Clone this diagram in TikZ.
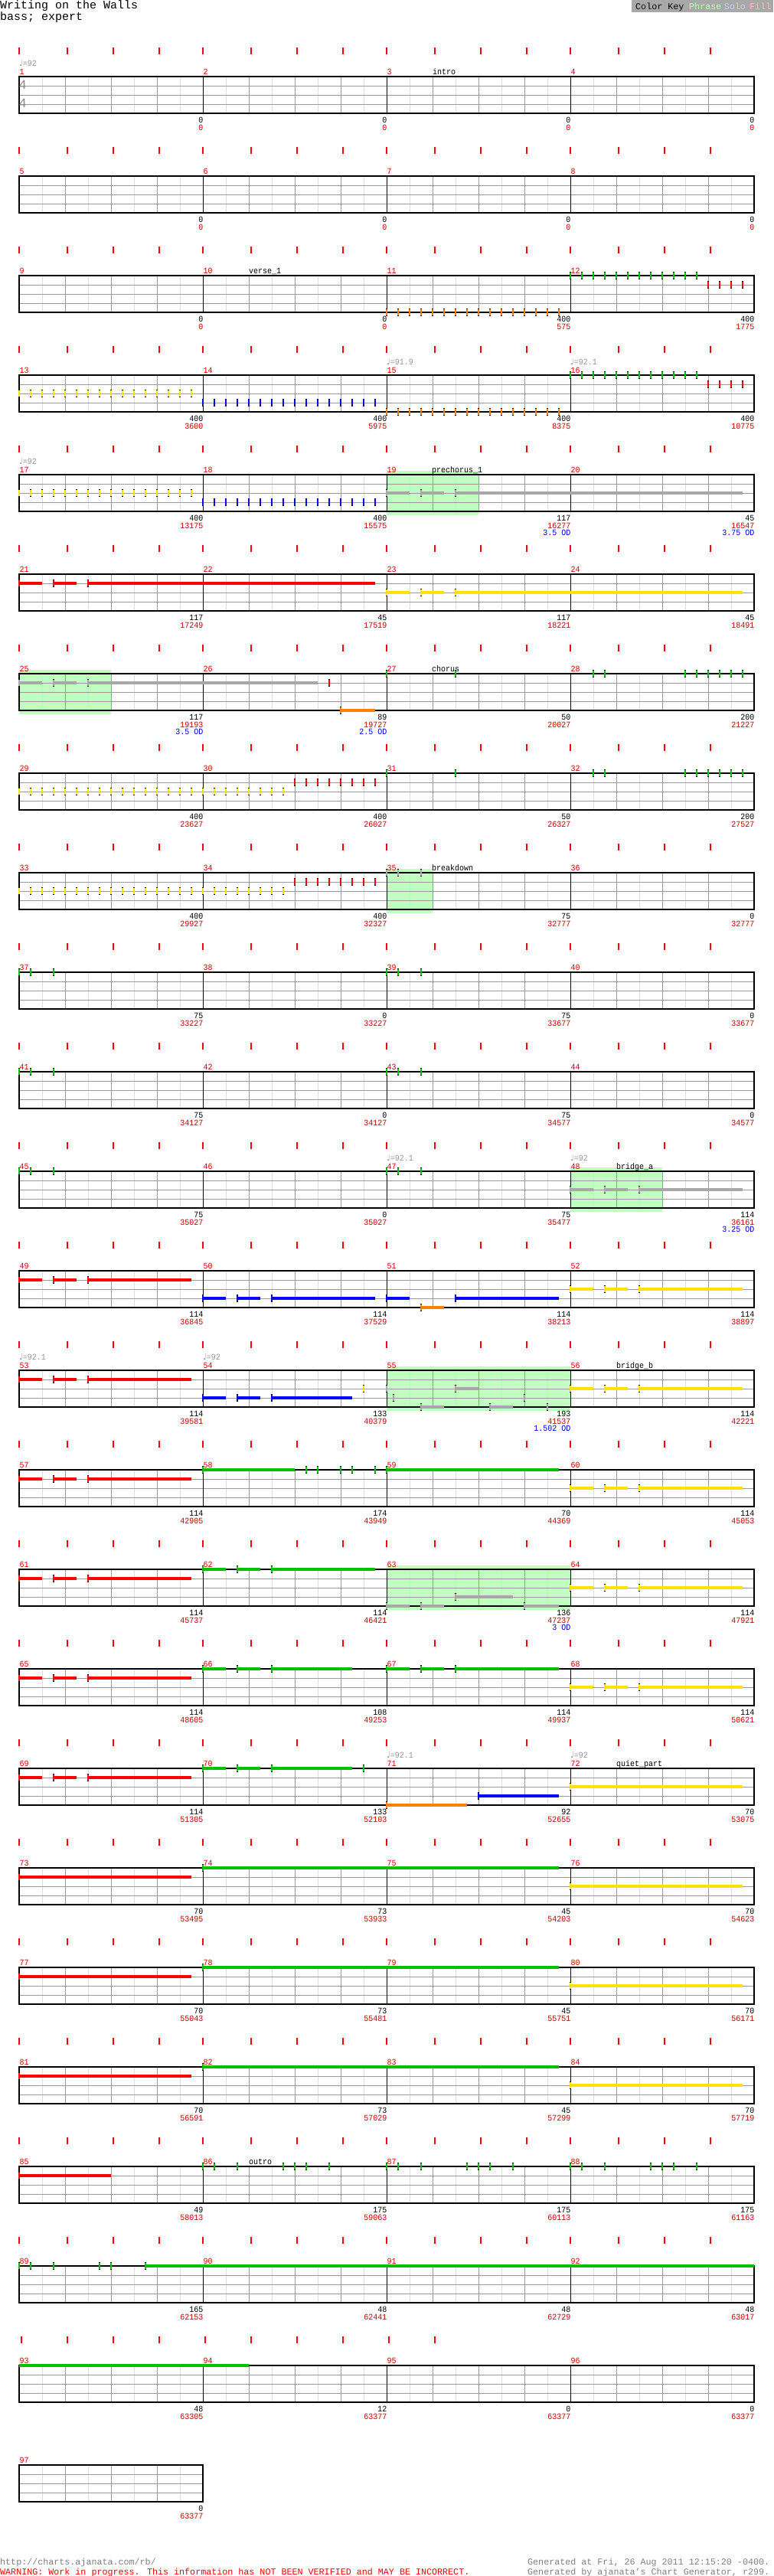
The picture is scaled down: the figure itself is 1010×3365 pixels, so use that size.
\documentclass[tikz,border=0pt]{standalone}
\usepackage{graphicx}
\usepackage{fontspec}
\setmainfont{Liberation Mono}
\newfontfamily\symfont{DejaVu Sans}
\definecolor{ngreen}{RGB}{0,192,0}
\definecolor{nred}{RGB}{255,0,0}
\definecolor{nyellow}{RGB}{255,226,0}
\definecolor{nblue}{RGB}{0,0,255}
\definecolor{norange}{RGB}{255,128,0}
\definecolor{odgray}{RGB}{168,168,168}
\definecolor{phrasebg}{RGB}{192,255,192}
\definecolor{gridlight}{RGB}{222,222,222}
\definecolor{gridmid}{RGB}{155,155,155}
\definecolor{numred}{RGB}{204,0,0}
\definecolor{odblue}{RGB}{0,0,204}
\definecolor{tempogray}{RGB}{150,150,150}
\definecolor{siggray}{RGB}{135,135,135}
\definecolor{keygray}{RGB}{168,168,168}
\definecolor{keysolo}{RGB}{204,204,255}
\definecolor{keyfill}{RGB}{255,192,192}
\definecolor{footgray}{RGB}{128,128,128}
\newcommand\tall[1]{\scalebox{1}[1.1]{#1}}
\tikzset{
  eighthline/.style={draw=gridlight, line width=0.8pt},
  beatline/.style={draw=gridmid, line width=0.8pt},
  laneline/.style={draw=gridmid, line width=1pt},
  barline/.style={draw=black, line width=0.8pt},
  staffedge/.style={draw=black, line width=1.2pt},
  beattick/.style={draw=red, line width=1.8pt},
  sustain/.style={line width=3.2pt},
  smalltext/.style={inner sep=0pt, font=\fontsize{10}{10}\selectfont},
  msrnum/.style={smalltext, text=numred, anchor=base west},
  secttext/.style={smalltext, anchor=base west},
  tempotext/.style={smalltext, text=tempogray, anchor=base west},
  scoreblack/.style={smalltext, anchor=base east},
  scorered/.style={smalltext, text=numred, anchor=base east},
  odtext/.style={smalltext, text=odblue, anchor=base east},
  titletext/.style={inner sep=0pt, anchor=base west, font=\fontsize{15}{15}\selectfont},
  keytext/.style={inner sep=0pt, anchor=base west, font=\fontsize{11.7}{11.7}\selectfont},
  timesig/.style={inner sep=0pt, anchor=west, text=siggray, font=\fontsize{17}{17}\selectfont},
}
% row, measures, first measure
\newcommand\chstaff[3]{%
  \pgfmathtruncatemacro\rt{100+130*#1}%
  \pgfmathtruncatemacro\rx{25+240*#2}%
  \pgfmathtruncatemacro\ne{8*#2-1}%
  \pgfmathtruncatemacro\nbt{4*#2-1}%
  \foreach \e in {1,...,\ne} \draw[eighthline] ({25+30*\e},\rt) -- ++(0,48);
  \foreach \e in {1,...,\nbt} \draw[beatline] ({25+60*\e},\rt) -- ++(0,48);
  \foreach \l in {1,2,3} \draw[laneline] (25,{\rt+12*\l}) -- (\rx,{\rt+12*\l});
  \ifnum#2>1 \pgfmathtruncatemacro\nm{#2-1}\foreach \m in {1,...,\nm} \draw[barline] ({25+240*\m},\rt) -- ++(0,48); \fi
  \draw[staffedge] (25,\rt) rectangle (\rx,\rt+48);
  \foreach \m in {1,...,#2} {\pgfmathtruncatemacro\mn{#3+\m-1}\node[msrnum] (m\mn) at ({25.5+240*(\m-1)},{\rt-3}) {\tall{\mn}};}
}
\newcommand\chticks[1]{\foreach \m in {0,...,3} \foreach \o in {0,63,123,183} \draw[beattick] ({25+240*\m+\o},{100+130*#1-38}) -- ++(0,9);}
% row, lane, beat, colour
\newcommand\chnote[4]{%
  \fill[black] ({25+60*(#3)-1.3},{100+130*(#1)+12*(#2)-5}) rectangle ++(2.6,10);
  \fill[#4] ({25+60*(#3)-1.3},{100+130*(#1)+12*(#2)-3.8}) rectangle ++(2.6,7.6);}
\newcommand\chsus[5]{\draw[sustain,#5] ({25+60*(#3)},{100+130*(#1)+12*(#2)}) -- ({25+60*(#4)},{100+130*(#1)+12*(#2)});}
\newcommand\chhold[5]{\chsus{#1}{#2}{#3}{#4}{#5}\chnote{#1}{#2}{#3}{#5}}
\newcommand\chriff[5]{\chhold{#1}{#2}{#3}{#3+0.5}{#5}\chhold{#1}{#2}{#3+0.75}{#3+1.25}{#5}\chhold{#1}{#2}{#3+1.5}{#4}{#5}}
\newcommand\chrun[5]{\foreach \k in {1,...,#4} {\chnote{#1}{#2}{#3+0.25*(\k-1)}{#5}}}
\newcommand\chhits[4]{\foreach \b in {#3} {\chnote{#1}{#2}{\b}{#4}}}
\newcommand\chphrase[3]{\fill[phrasebg] ({25+60*(#2)},{100+130*#1-5}) rectangle ({25+60*(#3)},{100+130*#1+53});}
\newcommand\chscore[4]{%
  \node[scoreblack] (sb-#1-#2) at ({25.5+240*#2},{100+130*#1+60.5}) {\tall{#3}};
  \node[scorered] (sr-#1-#2) at ({25.5+240*#2},{100+130*#1+70}) {\tall{#4}};}
\newcommand\chod[3]{\node[odtext] (od-#1-#2) at ({25.5+240*#2},{100+130*#1+79}) {\tall{#3}};}
\newcommand\chtempo[3]{\node[tempotext] (t-#1-#2) at (#2,{100+130*#1-13.5}) {\tall{{\symfont ♩}=#3}};}
\newcommand\chsect[3]{\node[secttext] (s-#1) at (#2,{100+130*#1-3}) {\tall{#3}};}
\begin{document}
\begin{tikzpicture}[x=1pt,y=-1pt]
\fill[white] (0,0) rectangle (1010,3365);
\useasboundingbox (0,0) rectangle (1010,3365);
% header
\node[titletext] (title) at (0,11.5) {Writing on the Walls};
\node[titletext] (part) at (0,26.5) {bass; expert};
\fill[keygray] (825,0) rectangle (1010,15.7);
\node[keytext] (key) at (830,12) {Color Key};
\node[keytext, text=phrasebg] (keyphrase) at (900,12) {Phrase};
\node[keytext, text=keysolo] (keysolo) at (945.6,12) {Solo};
\node[keytext, text=keyfill] (keyfill) at (979,12) {Fill};
% phrases
\chphrase{4}{8}{10}
\chphrase{6}{0}{2}
\chphrase{8}{8}{9}
\chphrase{11}{12}{14}
\chphrase{13}{8}{12}
\chphrase{15}{8}{12}
% staves
\foreach \r in {0,...,23} {\pgfmathtruncatemacro\fm{4*\r+1}\chstaff{\r}{4}{\fm}}
\chstaff{24}{1}{97}
\foreach \r in {0,...,22} {\chticks{\r}}
\foreach \x in {27.7,88,148,208,268,328,388,448,508,568} \draw[beattick] (\x,{100+130*23-38}) -- ++(0,9);
\node[timesig] (ts1) at (24.5,110.5) {4};
\node[timesig] (ts2) at (24.5,135) {4};
% row 0-1
\chtempo{0}{25}{92}
\chsect{0}{565}{intro}
\foreach \j in {1,...,4} {\chscore{0}{\j}{0}{0}\chscore{1}{\j}{0}{0}}
% row 2
\chsect{2}{325}{verse\_1}
\chrun{2}{4}{8}{16}{norange}
\chrun{2}{0}{12}{12}{ngreen}
\chrun{2}{1}{15}{4}{nred}
\chscore{2}{1}{0}{0}\chscore{2}{2}{0}{0}\chscore{2}{3}{400}{575}\chscore{2}{4}{400}{1775}
% row 3
\chtempo{3}{505}{91.9}
\chtempo{3}{745}{92.1}
\chrun{3}{2}{0}{16}{nyellow}
\chrun{3}{3}{4}{16}{nblue}
\chrun{3}{4}{8}{16}{norange}
\chrun{3}{0}{12}{12}{ngreen}
\chrun{3}{1}{15}{4}{nred}
\chscore{3}{1}{400}{3600}\chscore{3}{2}{400}{5975}\chscore{3}{3}{400}{8375}\chscore{3}{4}{400}{10775}
% row 4
\chtempo{4}{25}{92}
\chsect{4}{564}{prechorus\_1}
\chrun{4}{2}{0}{16}{nyellow}
\chrun{4}{3}{4}{16}{nblue}
\chriff{4}{2}{8}{15.75}{odgray}
\chscore{4}{1}{400}{13175}\chscore{4}{2}{400}{15575}\chscore{4}{3}{117}{16277}\chscore{4}{4}{45}{16547}
\chod{4}{3}{3.5 OD}\chod{4}{4}{3.75 OD}
% row 5
\chriff{5}{1}{0}{7.75}{nred}
\chriff{5}{2}{8}{15.75}{nyellow}
\chscore{5}{1}{117}{17249}\chscore{5}{2}{45}{17519}\chscore{5}{3}{117}{18221}\chscore{5}{4}{45}{18491}
% row 6
\chsect{6}{564}{chorus}
\chriff{6}{1}{0}{6.5}{odgray}
\chnote{6}{1}{6.75}{nred}
\chhold{6}{4}{7}{7.75}{norange}
\chhits{6}{0}{8,9.5,12.5,12.75,14.5,14.75,15,15.25,15.5,15.75}{ngreen}
\chscore{6}{1}{117}{19193}\chscore{6}{2}{89}{19727}\chscore{6}{3}{50}{20027}\chscore{6}{4}{200}{21227}
\chod{6}{1}{3.5 OD}\chod{6}{2}{2.5 OD}
% row 7
\chrun{7}{2}{0}{24}{nyellow}
\chrun{7}{1}{6}{8}{nred}
\chhits{7}{0}{8,9.5,12.5,12.75,14.5,14.75,15,15.25,15.5,15.75}{ngreen}
\chscore{7}{1}{400}{23627}\chscore{7}{2}{400}{26027}\chscore{7}{3}{50}{26327}\chscore{7}{4}{200}{27527}
% row 8
\chsect{8}{564}{breakdown}
\chrun{8}{2}{0}{24}{nyellow}
\chrun{8}{1}{6}{8}{nred}
\chhits{8}{0}{8,8.25,8.75}{odgray}
\chscore{8}{1}{400}{29927}\chscore{8}{2}{400}{32327}\chscore{8}{3}{75}{32777}\chscore{8}{4}{0}{32777}
% rows 9-11
\chhits{9}{0}{0,0.25,0.75,8,8.25,8.75}{ngreen}
\chscore{9}{1}{75}{33227}\chscore{9}{2}{0}{33227}\chscore{9}{3}{75}{33677}\chscore{9}{4}{0}{33677}
\chhits{10}{0}{0,0.25,0.75,8,8.25,8.75}{ngreen}
\chscore{10}{1}{75}{34127}\chscore{10}{2}{0}{34127}\chscore{10}{3}{75}{34577}\chscore{10}{4}{0}{34577}
\chtempo{11}{505}{92.1}
\chtempo{11}{745}{92}
\chsect{11}{805}{bridge\_a}
\chhits{11}{0}{0,0.25,0.75,8,8.25,8.75}{ngreen}
\chriff{11}{2}{12}{15.75}{odgray}
\chscore{11}{1}{75}{35027}\chscore{11}{2}{0}{35027}\chscore{11}{3}{75}{35477}\chscore{11}{4}{114}{36161}
\chod{11}{4}{3.25 OD}
% row 12
\chriff{12}{1}{0}{3.75}{nred}
\chriff{12}{3}{4}{7.75}{nblue}
\chhold{12}{3}{8}{8.5}{nblue}
\chhold{12}{4}{8.75}{9.25}{norange}
\chhold{12}{3}{9.5}{11.75}{nblue}
\chriff{12}{2}{12}{15.75}{nyellow}
\chscore{12}{1}{114}{36845}\chscore{12}{2}{114}{37529}\chscore{12}{3}{114}{38213}\chscore{12}{4}{114}{38897}
% row 13
\chtempo{13}{25}{92.1}
\chtempo{13}{265}{92}
\chsect{13}{805}{bridge\_b}
\chriff{13}{1}{0}{3.75}{nred}
\chriff{13}{3}{4}{7.25}{nblue}
\chnote{13}{2}{7.5}{nyellow}
\chnote{13}{2}{8}{odgray}
\chnote{13}{3}{8.15}{odgray}
\chhold{13}{4}{8.75}{9.25}{odgray}
\chhold{13}{2}{9.5}{10}{odgray}
\chhold{13}{4}{10.25}{10.75}{odgray}
\chnote{13}{3}{11}{odgray}
\chnote{13}{4}{11.5}{odgray}
\chriff{13}{2}{12}{15.75}{nyellow}
\chscore{13}{1}{114}{39581}\chscore{13}{2}{133}{40379}\chscore{13}{3}{193}{41537}\chscore{13}{4}{114}{42221}
\chod{13}{3}{1.502 OD}
% row 14
\chriff{14}{1}{0}{3.75}{nred}
\chhold{14}{0}{4}{6}{ngreen}
\chhits{14}{0}{6.25,6.5,7,7.25,7.75}{ngreen}
\chhold{14}{0}{8}{11.75}{ngreen}
\chriff{14}{2}{12}{15.75}{nyellow}
\chscore{14}{1}{114}{42905}\chscore{14}{2}{174}{43949}\chscore{14}{3}{70}{44369}\chscore{14}{4}{114}{45053}
% row 15
\chriff{15}{1}{0}{3.75}{nred}
\chriff{15}{0}{4}{7.75}{ngreen}
\chhold{15}{4}{8}{8.5}{odgray}
\chhold{15}{4}{8.75}{9.25}{odgray}
\chhold{15}{3}{9.5}{10.75}{odgray}
\chhold{15}{4}{11}{11.75}{odgray}
\chriff{15}{2}{12}{15.75}{nyellow}
\chscore{15}{1}{114}{45737}\chscore{15}{2}{114}{46421}\chscore{15}{3}{136}{47237}\chscore{15}{4}{114}{47921}
\chod{15}{3}{3 OD}
% row 16
\chriff{16}{1}{0}{3.75}{nred}
\chriff{16}{0}{4}{7.25}{ngreen}
\chriff{16}{0}{8}{11.75}{ngreen}
\chriff{16}{2}{12}{15.75}{nyellow}
\chscore{16}{1}{114}{48605}\chscore{16}{2}{108}{49253}\chscore{16}{3}{114}{49937}\chscore{16}{4}{114}{50621}
% row 17
\chtempo{17}{505}{92.1}
\chtempo{17}{745}{92}
\chsect{17}{805}{quiet\_part}
\chriff{17}{1}{0}{3.75}{nred}
\chriff{17}{0}{4}{7.25}{ngreen}
\chnote{17}{0}{7.5}{ngreen}
\chhold{17}{4}{8}{9.75}{norange}
\chhold{17}{3}{10}{11.75}{nblue}
\chhold{17}{2}{12}{15.75}{nyellow}
\chscore{17}{1}{114}{51305}\chscore{17}{2}{133}{52103}\chscore{17}{3}{92}{52655}\chscore{17}{4}{70}{53075}
% rows 18-20
\foreach \r in {18,19,20} {\chhold{\r}{1}{0}{3.75}{nred}\chhold{\r}{0}{4}{11.75}{ngreen}\chhold{\r}{2}{12}{15.75}{nyellow}}
\chscore{18}{1}{70}{53495}\chscore{18}{2}{73}{53933}\chscore{18}{3}{45}{54203}\chscore{18}{4}{70}{54623}
\chscore{19}{1}{70}{55043}\chscore{19}{2}{73}{55481}\chscore{19}{3}{45}{55751}\chscore{19}{4}{70}{56171}
\chscore{20}{1}{70}{56591}\chscore{20}{2}{73}{57029}\chscore{20}{3}{45}{57299}\chscore{20}{4}{70}{57719}
% row 21
\chsect{21}{325}{outro}
\chhold{21}{1}{0}{2}{nred}
\chhits{21}{0}{4,4.25,4.75,5.75,6,6.25,6.75,8,8.25,8.75,9.75,10,10.25,10.75,12,12.25,12.75,13.75,14,14.25,14.75}{ngreen}
\chscore{21}{1}{49}{58013}\chscore{21}{2}{175}{59063}\chscore{21}{3}{175}{60113}\chscore{21}{4}{175}{61163}
% row 22
\chhits{22}{0}{0,0.25,0.75,1.75,2}{ngreen}
\chhold{22}{0}{2.75}{16}{ngreen}
\chscore{22}{1}{165}{62153}\chscore{22}{2}{48}{62441}\chscore{22}{3}{48}{62729}\chscore{22}{4}{48}{63017}
% row 23-24
\chsus{23}{0}{0}{5}{ngreen}
\chscore{23}{1}{48}{63305}\chscore{23}{2}{12}{63377}\chscore{23}{3}{0}{63377}\chscore{23}{4}{0}{63377}
\chscore{24}{1}{0}{63377}
% footer
\node[keytext, text=footgray] (url) at (0,3350) {http://charts.ajanata.com/rb/};
\node[keytext, text=red] (warn) at (0,3363) {WARNING: Work in progress. This information has NOT BEEN VERIFIED and MAY BE INCORRECT.};
\node[keytext, text=footgray] (gendate) at (689,3350) {Generated at Fri, 26 Aug 2011 12:15:20 -0400.};
\node[keytext, text=footgray] (genby) at (689,3363) {Generated by ajanata's Chart Generator, r299.};
\end{tikzpicture}
\end{document}
